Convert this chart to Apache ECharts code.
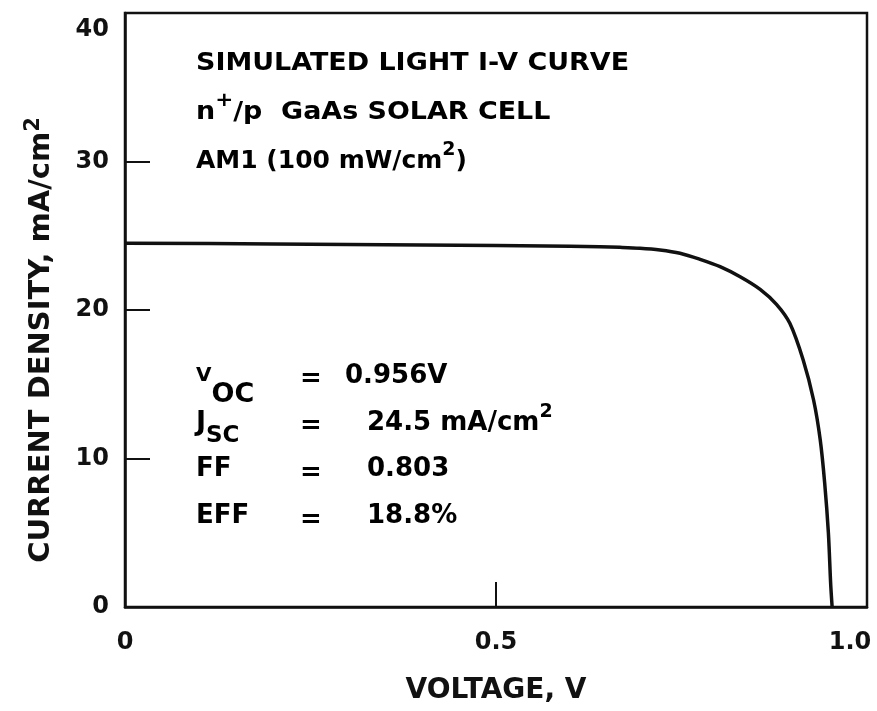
<!DOCTYPE html>
<html>
<head>
<meta charset="utf-8">
<script src="https://cdn.jsdelivr.net/npm/echarts@6/dist/echarts.min.js"></script>
<style>html,body{margin:0;padding:0;background:#fff;}#c{width:877px;height:711px;}</style>
</head>
<body>
<div id="c"></div>
<script>
// Data
const voltage = [0, 0.2, 0.4, 0.6, 0.64, 0.667, 0.694, 0.721, 0.748, 0.775, 0.802, 0.829, 0.856, 0.878, 0.896, 0.914, 0.928, 0.937, 0.943, 0.948, 0.951, 0.953];
const current = [24.5, 24.45, 24.38, 24.29, 24.26, 24.22, 24.16, 24.04, 23.82, 23.41, 22.92, 22.24, 21.39, 20.38, 19.1, 16.63, 13.94, 11.25, 8.33, 4.96, 1.6, 0];
const xTickLabels = {0: '0', 0.5: '0.5', 1: '1.0'};
const yTickLabels = {0: '0', 10: '10', 20: '20', 30: '30', 40: '40'};

const FONT = 'DejaVu Sans';
const INK = '#111';
const chart = echarts.init(document.getElementById('c'));
const base = {fontFamily: FONT, fontWeight: 'bold', color: INK};
function t(size, pb) { return Object.assign({}, base, {fontSize: size, verticalAlign: 'bottom', padding: [0, 0, pb || 0, 0]}); }

const points = voltage.map((v, i) => [v, current[i]]);

chart.setOption({
  animation: false,
  backgroundColor: '#fff',
  grid: {left: 125, right: 10, top: 13, bottom: 104, show: true, borderColor: INK, borderWidth: 2.5},
  xAxis: {
    type: 'value', min: 0, max: 1, interval: 0.5,
    name: 'VOLTAGE, V', nameLocation: 'middle', nameGap: 70,
    nameTextStyle: Object.assign({}, base, {fontSize: 28}),
    axisLine: {show: true, lineStyle: {color: INK, width: 2.5}},
    axisTick: {show: true, inside: true, length: 25, lineStyle: {color: INK, width: 2}},
    splitLine: {show: false},
    axisLabel: Object.assign({}, base, {
      fontSize: 24, margin: 24,
      formatter: v => v === 1 ? '{r|' + xTickLabels[1] + '}' : (xTickLabels[v] || ''),
      rich: {r: Object.assign({}, base, {fontSize: 24, padding: [0, 34, 0, 0]})}
    })
  },
  yAxis: {
    type: 'value', min: 0, max: 40, interval: 10,
    name: 'CURRENT DENSITY, mA/cm{s|2}', nameLocation: 'middle', nameGap: 65,
    nameTextStyle: Object.assign({}, base, {fontSize: 29, padding: [0, 60, 0, 0],
      rich: {s: Object.assign({}, base, {fontSize: 21, padding: [0, 0, 16, 0]})}}),
    axisLine: {show: true, lineStyle: {color: INK, width: 2.5}},
    axisTick: {show: true, inside: true, length: 25, lineStyle: {color: INK, width: 2}},
    splitLine: {show: false},
    axisLabel: Object.assign({}, base, {
      fontSize: 24, margin: 16,
      formatter: v => v === 40 ? '{h|' + yTickLabels[40] + '}' : (yTickLabels[v] || ''),
      rich: {h: Object.assign({}, base, {fontSize: 24, padding: [34, 0, 0, 0]})}
    })
  },
  series: [{
    type: 'line', data: points, showSymbol: false, smooth: 0.3,
    lineStyle: {color: INK, width: 3.5}, silent: true
  }],
  graphic: [
    {type: 'text', left: 196, top: 51, scaleX: 1.077, style: Object.assign({}, base, {text: 'SIMULATED LIGHT I-V CURVE', fontSize: 25})},
    {type: 'text', left: 196, top: 91, scaleX: 1.077, style: {text: '{b|n}{s|+}{b|/p  GaAs SOLAR CELL}', rich: {b: t(25), s: t(20, 14)}}},
    {type: 'text', left: 196, top: 141, style: {text: '{b|AM1 (100 mW/cm}{s|2}{b|)}', rich: {b: t(25), s: t(19, 14)}}},

    {type: 'text', left: 196, top: 366, style: {text: '{v|V}{b|OC}', rich: {v: t(20, 22), b: t(27)}}},
    {type: 'text', left: 300, top: 366, style: Object.assign({}, base, {text: '=', fontSize: 26})},
    {type: 'text', left: 345, top: 363, style: Object.assign({}, base, {text: '0.956V', fontSize: 26})},

    {type: 'text', left: 196, top: 409, style: {text: '{b|J}{s|SC}', rich: {b: t(27, 12), s: t(23)}}},
    {type: 'text', left: 300, top: 413, style: Object.assign({}, base, {text: '=', fontSize: 26})},
    {type: 'text', left: 367, top: 403, style: {text: '{b|24.5 mA/cm}{s|2}', rich: {b: t(26), s: t(19, 14)}}},

    {type: 'text', left: 196, top: 456, style: Object.assign({}, base, {text: 'FF', fontSize: 26})},
    {type: 'text', left: 300, top: 460, style: Object.assign({}, base, {text: '=', fontSize: 26})},
    {type: 'text', left: 367, top: 456, style: Object.assign({}, base, {text: '0.803', fontSize: 26})},

    {type: 'text', left: 196, top: 503, style: Object.assign({}, base, {text: 'EFF', fontSize: 26})},
    {type: 'text', left: 300, top: 507, style: Object.assign({}, base, {text: '=', fontSize: 26})},
    {type: 'text', left: 367, top: 503, style: Object.assign({}, base, {text: '18.8%', fontSize: 26})}
  ]
});
</script>
</body>
</html>
